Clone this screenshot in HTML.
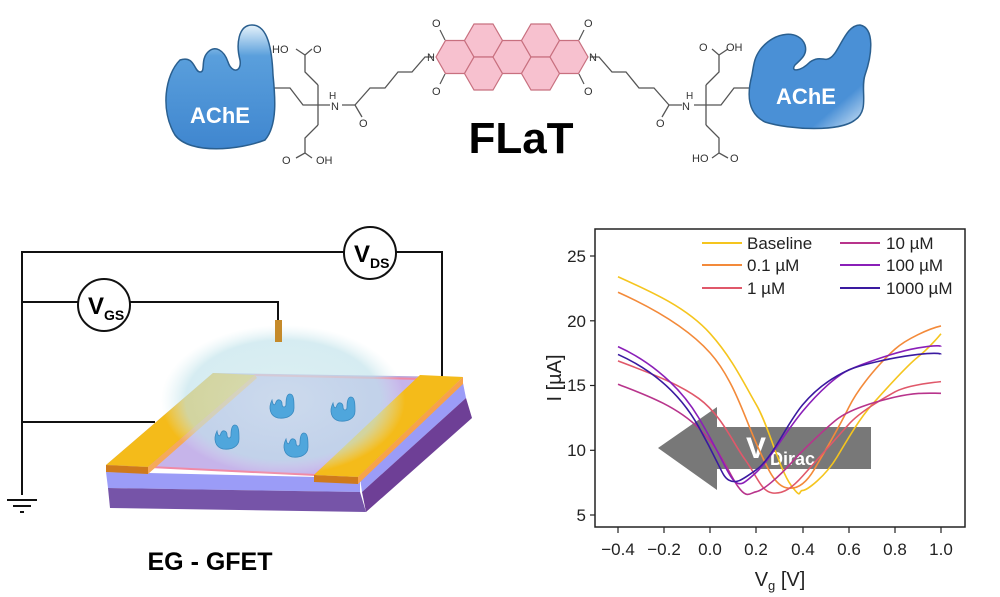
<!DOCTYPE html>
<html><head><meta charset="utf-8"><style>
html,body{margin:0;padding:0;background:#fff}
svg{display:block}
text{font-family:"Liberation Sans",sans-serif}
</style></head><body>
<svg width="1000" height="597" viewBox="0 0 1000 597" xmlns="http://www.w3.org/2000/svg">
<defs>
<linearGradient id="bl" x1="0" y1="0" x2="0" y2="1"><stop offset="0" stop-color="#e6f2fb"/><stop offset="0.25" stop-color="#5a9fdc"/><stop offset="1" stop-color="#3f86cf"/></linearGradient>
<linearGradient id="bl2" x1="0" y1="0" x2="1" y2="1"><stop offset="0" stop-color="#4a90d6"/><stop offset="0.75" stop-color="#4a90d6"/><stop offset="1" stop-color="#e6f2fb"/></linearGradient>
<radialGradient id="bub" cx="0.5" cy="0.5" r="0.5"><stop offset="0" stop-color="#cfe9ee" stop-opacity="0.9"/><stop offset="0.8" stop-color="#bfe2ea" stop-opacity="0.8"/><stop offset="1" stop-color="#d8eef2" stop-opacity="0"/></radialGradient>
<path id="blob" d="M180,60 C165,75 160,110 175,135 C190,155 240,150 265,140 C278,125 275,95 273,75 C272,50 268,25 252,25 C238,25 236,45 240,60 C242,72 232,74 228,62 C224,50 215,45 208,52 C200,60 206,72 200,72 C194,72 195,55 180,60 Z"/>
<path id="enz" d="M-10,-6 C-14,2 -12,10 -4,12 C4,13 12,10 12,2 C12,-4 12,-12 8,-12 C4,-12 4,-4 4,-2 C4,2 0,2 0,-2 C0,-6 -4,-8 -6,-4 C-7,0 -9,0 -10,-6 Z"/>
<polygon id="hex" points="19,0 9.5,16.5 -9.5,16.5 -19,0 -9.5,-16.5 9.5,-16.5"/>
</defs>

<!-- ===== Molecule ===== -->
<g fill="none" stroke="#555" stroke-width="1.3">
<polyline points="273,88 290,88 303,105 318,105 330,105"/>
<polyline points="318,85 318,125"/>
<polyline points="318,85 305,72 305,55 312,49"/>
<polyline points="305,55 296,49"/>
<polyline points="318,125 305,138 305,153 296,158"/>
<polyline points="305,153 312,158"/>
<polyline points="342,105 355,105 362,117"/>
<polyline points="355,105 370,88 385,88 398,72 412,72 425,57 434,57"/>
</g>
<use href="#blob" fill="url(#bl)" stroke="#2a5f8f" stroke-width="1.5"/>
<g transform="translate(1024,0) scale(-1,1)">
<g fill="none" stroke="#555" stroke-width="1.3">
<polyline points="273,88 290,88 303,105 318,105 330,105"/>
<polyline points="318,85 318,125"/>
<polyline points="318,85 305,72 305,55 312,49"/>
<polyline points="305,55 296,49"/>
<polyline points="318,125 305,138 305,153 296,158"/>
<polyline points="305,153 312,158"/>
<polyline points="342,105 355,105 362,117"/>
<polyline points="355,105 370,88 385,88 398,72 412,72 425,57 434,57"/>
</g>
</g>
<path d="M760,50 C775,30 800,30 805,45 C808,55 800,60 795,65 C790,72 800,72 810,62 C820,55 825,62 830,58 C840,52 845,25 860,25 C875,28 872,55 865,75 C860,90 870,110 855,120 C840,132 790,130 765,122 C745,112 748,90 752,75 C754,62 755,57 760,50 Z" fill="url(#bl2)" stroke="#2a5f8f" stroke-width="1.5"/>
<g font-size="11" fill="#333">
<text x="272" y="53">HO</text><text x="313" y="53">O</text>
<text x="282" y="164">O</text><text x="316" y="164">OH</text>
<text x="329" y="99" font-size="10">H</text><text x="331" y="110">N</text>
<text x="359" y="127">O</text>
<text x="427" y="61">N</text><text x="589" y="61">N</text>
<text x="432" y="27">O</text><text x="432" y="95">O</text>
<text x="584" y="27">O</text><text x="584" y="95">O</text>
<text x="699" y="51">O</text><text x="726" y="51">OH</text>
<text x="692" y="162">HO</text><text x="730" y="162">O</text>
<text x="686" y="99" font-size="10">H</text><text x="682" y="110">N</text>
<text x="656" y="127">O</text>
</g>
<g fill="#f7c1cf" stroke="#c8707f" stroke-width="1.2">
<use href="#hex" x="455" y="57"/>
<use href="#hex" x="483.5" y="40.5"/><use href="#hex" x="483.5" y="73.5"/>
<use href="#hex" x="512" y="57"/>
<use href="#hex" x="540.5" y="40.5"/><use href="#hex" x="540.5" y="73.5"/>
<use href="#hex" x="569" y="57"/>
</g>
<g stroke="#555" stroke-width="1.2">
<line x1="445" y1="40" x2="440" y2="30"/><line x1="445" y1="74" x2="440" y2="84"/>
<line x1="579" y1="40" x2="584" y2="30"/><line x1="579" y1="74" x2="584" y2="84"/>
</g>
<text x="220" y="123" font-size="22" font-weight="bold" fill="#fff" text-anchor="middle">AChE</text>
<text x="806" y="104" font-size="22" font-weight="bold" fill="#fff" text-anchor="middle">AChE</text>
<text x="521" y="153" font-size="44" font-weight="bold" fill="#000" text-anchor="middle">FLaT</text>

<!-- ===== Device ===== -->
<g fill="none" stroke="#111" stroke-width="2">
<polyline points="22,495 22,252 344,252"/>
<polyline points="396,252 442,252 442,377"/>
<polyline points="22,302 78,302"/>
<polyline points="130,302 278,302 278,320"/>
<polyline points="22,422 155,422"/>
<circle cx="370" cy="253" r="26" fill="#fff"/>
<circle cx="104" cy="305" r="26" fill="#fff"/>
<line x1="7" y1="500" x2="37" y2="500"/><line x1="13" y1="506" x2="31" y2="506"/><line x1="20" y1="512" x2="24" y2="512"/>
</g>
<text x="354" y="262" font-size="24" font-weight="bold">V<tspan font-size="14" dy="6">DS</tspan></text>
<text x="88" y="314" font-size="24" font-weight="bold">V<tspan font-size="14" dy="6">GS</tspan></text>
<polygon points="106,472 360,478 360,492 108,488" fill="#9b9cf7"/>
<polygon points="108,488 360,492 366,512 110,508" fill="#7654a8"/>
<polygon points="360,478 463,383 466,398 362,492" fill="#9b9cf7"/>
<polygon points="362,492 466,398 472,418 366,512" fill="#6e3f96"/>
<polygon points="106,465 360,477 463,377 213,373" fill="#b9a8dd"/>
<polygon points="150,467 315,475 420,379 255,375" fill="#c6b4ea" stroke="#f08aa6" stroke-width="2"/>
<polygon points="106,465 148,467 255,375 213,373" fill="#f4bb1a"/>
<polygon points="106,465 148,467 148,474 106,472" fill="#cf7a1c"/>
<polygon points="148,467 255,375 257,378 148,474" fill="#f5a95a"/>
<polygon points="314,475 358,477 463,377 420,375" fill="#f4bb1a"/>
<polygon points="314,475 358,477 358,484 314,482" fill="#cf7a1c"/>
<polygon points="358,477 463,377 463,384 358,484" fill="#f7a24a"/>
<ellipse cx="283" cy="400" rx="122" ry="75" fill="url(#bub)" opacity="0.8"/>
<rect x="275" y="320" width="7" height="22" fill="#c58a2a"/>
<g fill="#4fa6dc" stroke="#3a8ac0" stroke-width="0.8">
<use href="#enz" x="227" y="437"/><use href="#enz" x="282" y="406"/>
<use href="#enz" x="343" y="409"/><use href="#enz" x="296" y="445"/>
</g>
<text x="210" y="570" font-size="25" font-weight="bold" text-anchor="middle">EG - GFET</text>

<!-- ===== Graph ===== -->
<rect x="595" y="229" width="370" height="298" fill="none" stroke="#222" stroke-width="1.5"/>
<g stroke="#222" stroke-width="1.2">
<line x1="595" y1="256" x2="590" y2="256"/><line x1="595" y1="320.8" x2="590" y2="320.8"/><line x1="595" y1="385.5" x2="590" y2="385.5"/><line x1="595" y1="450.3" x2="590" y2="450.3"/><line x1="595" y1="515" x2="590" y2="515"/>
<line x1="618" y1="527" x2="618" y2="533"/><line x1="664" y1="527" x2="664" y2="533"/><line x1="710" y1="527" x2="710" y2="533"/><line x1="756" y1="527" x2="756" y2="533"/><line x1="803" y1="527" x2="803" y2="533"/><line x1="849" y1="527" x2="849" y2="533"/><line x1="895" y1="527" x2="895" y2="533"/><line x1="941" y1="527" x2="941" y2="533"/>
</g>
<g font-size="17" fill="#222" text-anchor="end">
<text x="586" y="262">25</text><text x="586" y="327">20</text><text x="586" y="391">15</text><text x="586" y="456">10</text><text x="586" y="521">5</text>
</g>
<g font-size="17" fill="#222" text-anchor="middle">
<text x="618" y="555">−0.4</text><text x="664" y="555">−0.2</text><text x="710" y="555">0.0</text><text x="756" y="555">0.2</text><text x="803" y="555">0.4</text><text x="849" y="555">0.6</text><text x="895" y="555">0.8</text><text x="941" y="555">1.0</text>
</g>
<text x="780" y="586" font-size="20" fill="#222" text-anchor="middle">V<tspan font-size="13" dy="4">g</tspan><tspan dy="-4"> [V]</tspan></text>
<text transform="translate(561,378) rotate(-90)" font-size="20" fill="#222" text-anchor="middle">I [µA]</text>
<polygon points="717,427 871,427 871,469 717,469 717,490 658,448 717,407" fill="#6d6d6d" opacity="0.92"/>
<text x="746" y="458" font-size="30" font-weight="bold" fill="#fff">V</text>
<text x="770" y="465" font-size="18" font-weight="bold" fill="#fff">Dirac</text>
<g transform="translate(618,515) scale(230.7,-12.95) translate(0.4,-5)" fill="none" stroke-width="1.6">
<path vector-effect="non-scaling-stroke" stroke="#f5c51e" d="M-0.4,23.4 C-0.25,22.2 -0.1,21 0,19 S0.15,15 0.2,13.5 S0.3,8.5 0.35,7.3 S0.38,6.9 0.4,6.9 S0.5,8 0.55,9.5 S0.65,12.5 0.7,13.5 S0.85,16.5 0.9,17.2 S1.0,19 1.0,19"/>
<path vector-effect="non-scaling-stroke" stroke="#f38a3a" d="M-0.4,22.2 C-0.25,21 -0.1,19.5 0,17.5 S0.15,12.5 0.2,10.5 S0.28,7.3 0.33,7.1 S0.42,7.6 0.45,8.5 S0.55,11.5 0.6,13.3 S0.75,17 0.8,17.8 S0.95,19.4 1.0,19.6"/>
<path vector-effect="non-scaling-stroke" stroke="#e0586a" d="M-0.4,16.9 C-0.3,16.2 -0.15,15.3 -0.05,14 S0.1,10.5 0.15,9.3 S0.22,6.8 0.27,6.7 S0.36,7.2 0.4,8 S0.55,11 0.6,12 S0.75,14 0.8,14.5 S0.95,15.2 1.0,15.3"/>
<path vector-effect="non-scaling-stroke" stroke="#b8348c" d="M-0.4,15.1 C-0.3,14.4 -0.15,13.5 -0.05,11.7 S0.08,8.2 0.12,7.2 S0.17,6.7 0.2,6.8 S0.3,8 0.35,9 S0.5,11.7 0.55,12.4 S0.7,13.7 0.8,14.1 S0.95,14.4 1.0,14.4"/>
<path vector-effect="non-scaling-stroke" stroke="#8a1fb8" d="M-0.4,18 C-0.3,17.2 -0.15,15.5 -0.05,12.5 S0.07,8.3 0.1,7.7 S0.15,7.5 0.2,8.3 S0.33,11.5 0.4,13 S0.55,15.8 0.6,16.2 S0.8,17.6 0.9,17.9 S1.0,18 1.0,18"/>
<path vector-effect="non-scaling-stroke" stroke="#3a1aa0" d="M-0.4,17.4 C-0.3,16.6 -0.15,15 -0.05,11.8 S0.05,8 0.08,7.7 S0.13,7.6 0.2,8.5 S0.33,12 0.4,13.5 S0.55,15.8 0.6,16.2 S0.8,17.2 0.9,17.4 S1.0,17.4 1.0,17.4"/>
</g>
<g stroke-width="2">
<line x1="702" y1="243" x2="742" y2="243" stroke="#f5c51e"/>
<line x1="702" y1="265" x2="742" y2="265" stroke="#f38a3a"/>
<line x1="702" y1="288" x2="742" y2="288" stroke="#e0586a"/>
<line x1="840" y1="243" x2="880" y2="243" stroke="#b8348c"/>
<line x1="840" y1="265" x2="880" y2="265" stroke="#8a1fb8"/>
<line x1="840" y1="288" x2="880" y2="288" stroke="#3a1aa0"/>
</g>
<g font-size="17" fill="#222">
<text x="747" y="249">Baseline</text><text x="747" y="271">0.1 µM</text><text x="747" y="294">1 µM</text>
<text x="886" y="249">10 µM</text><text x="886" y="271">100 µM</text><text x="886" y="294">1000 µM</text>
</g>
</svg>
</body></html>
